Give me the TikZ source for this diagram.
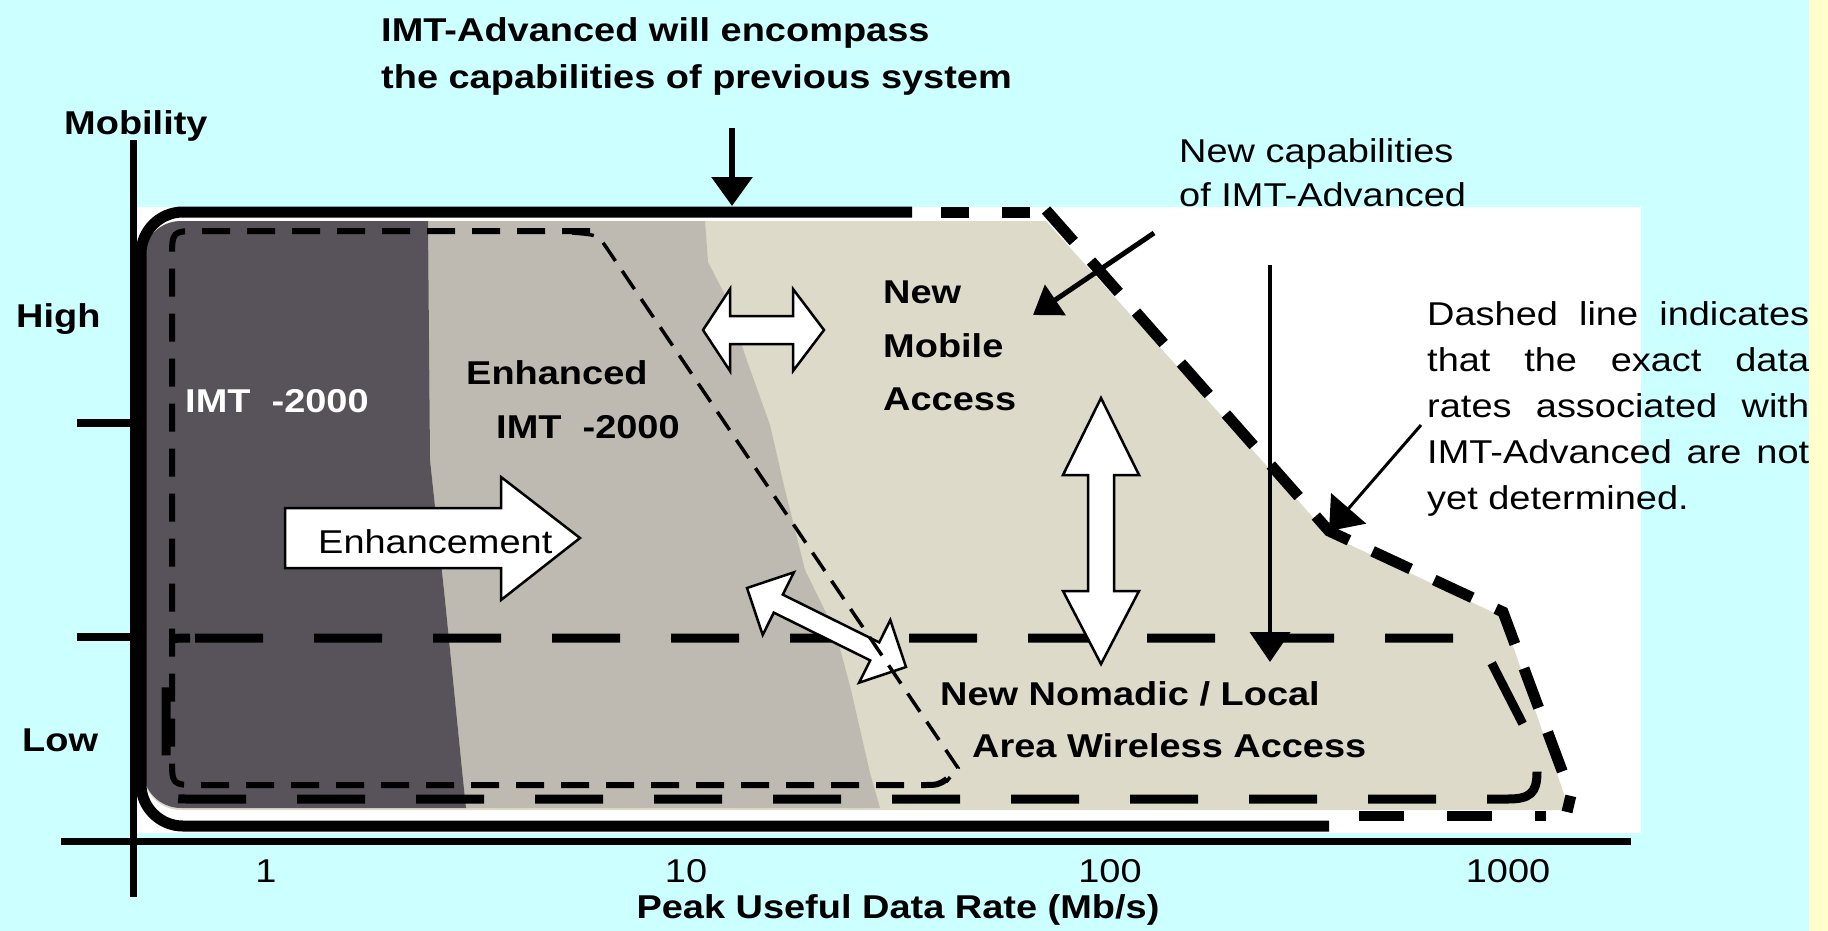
\documentclass[tikz,border=0pt]{standalone}
\usepackage{fontspec}
\setmainfont{Liberation Sans}[FakeStretch=1.15]
\usetikzlibrary{arrows.meta}
\definecolor{bgcyan}{RGB}{204,255,255}
\definecolor{stripyel}{RGB}{255,255,204}
\definecolor{darkreg}{RGB}{88,82,90}
\definecolor{midreg}{RGB}{190,186,177}
\definecolor{lightreg}{RGB}{221,218,201}
\newcommand\lblfont{\fontsize{33pt}{40pt}\selectfont}
\begin{document}
\begin{tikzpicture}[x=1pt,y=-1pt,
  txt/.style={inner sep=0pt, anchor=base west, font=\lblfont},
  btxt/.style={inner sep=0pt, anchor=base west, font=\lblfont\bfseries},
  ctxt/.style={inner sep=0pt, anchor=base, font=\lblfont},
  envline/.style={line width=11pt},
  blockarr/.style={fill=white, draw=black, line width=2.5pt, line join=miter},
  pointer/.style={draw=black}
]
\useasboundingbox (0,0) rectangle (1828,931);
\fill[bgcyan] (0,0) rectangle (1828,931);
\fill[stripyel] (1809,0) rectangle (1828,931);
\fill[white] (137,207) rectangle (1641,833);

% filled regions
\fill[lightreg] (600,810) [rounded corners=38pt] -- (143,810) -- (143,221) -- (400,221)
  [sharp corners] -- (1046,221) -- (1329,535) -- (1503,617) -- (1566,800) -- (1566,810) -- cycle;
\fill[midreg] (428,221) -- (705,221) -- (708,262) -- (725,295) -- (745,355) -- (770,425) -- (785,490)
  -- (805,570) -- (836,633) -- (851,690) -- (870,773) -- (880,808) -- (466,808) -- (462,770)
  -- (445,600) -- (430,460) -- cycle;
\fill[darkreg] (300,808) [rounded corners=38pt] -- (143,808) -- (143,221) -- (300,221)
  [sharp corners] -- (428,221) -- (430,460) -- (445,600) -- (462,770) -- (466,808) -- cycle;

% nomadic region (long dashes)
\draw[line width=9pt, dash pattern=on 68pt off 51pt] (195,638) -- (1462,638)
  .. controls (1478,638) and (1482,645) .. (1488,656) -- (1530,738)
  .. controls (1537,752) .. (1537,772) .. controls (1537,793) and (1530,799) .. (1508,799)
  -- (190,799) .. controls (166,799) .. (166,775) -- (166,662) .. controls (166,638) .. (190,638);

% IMT-2000 / enhanced region (short dashes)
\draw[line width=6pt, dash pattern=on 28pt off 17pt] (590,231) -- (200,231)
  .. controls (172,231) .. (172,259) -- (172,758) .. controls (172,785) .. (199,785)
  -- (922,785) .. controls (938,785) .. (947,779);

% block arrows
\draw[blockarr] (285,508) -- (501,508) -- (501,477) -- (580,538) -- (501,600) -- (501,568) -- (285,568) -- cycle;
\draw[blockarr] (703,330) -- (730,289) -- (730,316) -- (793,316) -- (793,289) -- (824,330)
  -- (793,371) -- (793,344) -- (730,344) -- (730,371) -- cycle;
\draw[blockarr] (1101,398) -- (1139,475) -- (1114,475) -- (1114,591) -- (1139,591) -- (1101,664)
  -- (1063,591) -- (1088,591) -- (1088,475) -- (1063,475) -- cycle;
\draw[blockarr] (747,588) -- (793.9,572.3) -- (782.8,594.6) -- (879.2,642.4) -- (890.3,620.1)
  -- (906,667) -- (859.1,682.7) -- (870.2,660.4) -- (773.8,612.6) -- (762.7,634.9) -- cycle;

% thin dashed diagonal boundary
\draw[line width=3.5pt, dash pattern=on 22pt off 12pt] (572,233) .. controls (598,235) .. (606,247)
  -- (958,768) -- (946,782);

% IMT-Advanced envelope
\draw[envline, rounded corners=42pt] (912,212) -- (141,212) -- (141,826) -- (1329,826);
\draw[envline, dash pattern=on 28pt off 33pt] (941,212) -- (1031,212);
\draw[envline, dash pattern=on 42pt off 26pt] (1046,210) -- (1329,531) -- (1503,612) -- (1571,795) -- (1567,812);
\draw[line width=10pt, dash pattern=on 45pt off 43pt] (1359,816) -- (1546,816);

% axes
\draw[line width=7pt] (133,140) -- (133,897);
\draw[line width=7pt] (61,841) -- (1631,841);
\draw[line width=8pt] (77,423) -- (133,423);
\draw[line width=8pt] (77,637) -- (133,637);

% pointer arrows
\coordinate (topTail) at (732,128); \coordinate (topTip) at (732,206);
\draw[pointer, line width=6pt, -{Triangle[length=29pt,width=40pt]}] (topTail) -- (topTip);
\coordinate (capTail) at (1154,233); \coordinate (capTip) at (1033,315);
\draw[pointer, line width=5pt, -{Triangle[length=27pt,width=36pt]}] (capTail) -- (capTip);
\coordinate (vTail) at (1270,265); \coordinate (vTip) at (1270,662);
\draw[pointer, line width=4pt, -{Triangle[length=30pt,width=40pt]}] (vTail) -- (vTip);
\coordinate (nTail) at (1421,425); \coordinate (nTip) at (1329,531);
\draw[pointer, line width=3pt, -{Triangle[length=30pt,width=46pt]}] (nTail) -- (nTip);

% texts
\node[btxt] (top1) at (381,42) {IMT-Advanced will encompass};
\node[btxt] (top2) at (381,89) {the capabilities of previous system};
\node[btxt] (mob) at (64,135) {Mobility};
\node[btxt] (high) at (16,327) {High};
\node[btxt] (low) at (22,751) {Low};
\node[btxt, text=white] (imt) at (185,412) {IMT\ \ -2000};
\node[btxt] (enh1) at (466,384) {Enhanced};
\node[btxt] (enh2) at (496,438) {IMT\ \ -2000};
\node[btxt] (nma1) at (883,303) {New};
\node[btxt] (nma2) at (883,357) {Mobile};
\node[btxt] (nma3) at (883,410) {Access};
\node[btxt] (nom1) at (940,705) {New Nomadic / Local};
\node[btxt] (nom2) at (972,757) {Area Wireless Access};
\node[txt] (cap1) at (1179,162) {New capabilities};
\node[txt] (cap2) at (1179,206) {of IMT-Advanced};
\node[txt] (enhl) at (318,553) {Enhancement};
\node[txt] (note1) at (1427,325) {\makebox[382pt][s]{Dashed line indicates}};
\node[txt] (note2) at (1427,371) {\makebox[382pt][s]{that the exact data}};
\node[txt] (note3) at (1427,417) {\makebox[382pt][s]{rates associated with}};
\node[txt] (note4) at (1427,463) {\makebox[382pt][s]{IMT-Advanced are not}};
\node[txt] (note5) at (1427,509) {yet determined.};
\node[ctxt] (x1) at (266,882) {1};
\node[ctxt] (x10) at (686,882) {10};
\node[ctxt] (x100) at (1110,882) {100};
\node[ctxt] (x1000) at (1508,882) {1000};
\node[ctxt, font=\lblfont\bfseries] (xlab) at (898,918) {Peak Useful Data Rate (Mb/s)};
\end{tikzpicture}
\end{document}
